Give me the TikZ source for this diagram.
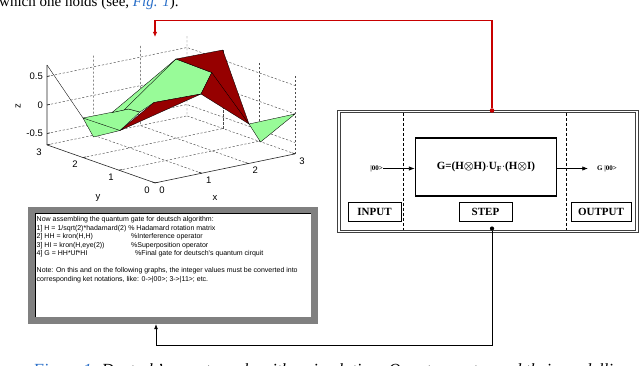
\documentclass[tikz,border=0pt]{standalone}
\usepackage{amsmath}
\usepackage{fontspec}
\setmainfont{Liberation Serif}
\newfontfamily\plotfont{Liberation Sans}
\usetikzlibrary{arrows.meta, positioning, calc}
\definecolor{surfgreen}{RGB}{152,251,152}
\definecolor{surfred}{RGB}{150,0,0}
\definecolor{linkred}{RGB}{200,0,0}
\definecolor{refblue}{RGB}{40,110,200}
\definecolor{framegray}{RGB}{128,128,128}

\begin{document}
\begin{tikzpicture}[x=1pt, y=-1pt, >=Latex,
  gridline/.style={black!70, line width=0.45pt, dash pattern=on 2.2pt off 1.8pt},
  axisline/.style={black!85, line width=0.6pt},
  ticklabel/.style={font=\plotfont\fontsize{9.5}{9.5}\selectfont, inner sep=0pt},
  facet/.style={draw=black, line width=0.35pt, line join=round},
  tagbox/.style={draw, line width=0.9pt, minimum height=19pt, inner sep=0pt, font=\bfseries\fontsize{11}{11}\selectfont},
  ket/.style={font=\bfseries\fontsize{7}{7}\selectfont, inner sep=0pt}]
  \useasboundingbox (0,0) rectangle (640,366);
  \clip (0,0) rectangle (640,366);

  \node[anchor=base west, inner sep=0pt, font=\fontsize{15}{15}\selectfont] (leadin) at (-1,7)
    {which one holds (see, \textcolor{refblue}{\itshape Fig. 1}).};

  \begin{scope}[shift={(155pt,-143pt)}, x={(46.67pt,9.67pt)}, y={(-36pt,12.67pt)}, z={(0pt,57pt)}]
    \foreach \k in {1,2,3} {
      \draw[gridline] (\k,0,-0.7) -- (\k,3,-0.7) -- (\k,3,0.7);
      \draw[gridline] (0,\k,-0.7) -- (3,\k,-0.7);
    }
    \foreach \k in {0,1,2} \draw[gridline] (3,\k,-0.7) -- (3,\k,0.7);
    \foreach \h in {-0.5,0,0.5} \draw[gridline] (0,3,\h) -- (3,3,\h) -- (3,0,\h);
    \draw[axisline] (0,3,0.7) -- (0,3,-0.7) -- (0,0,-0.7) -- (3,0,-0.7);
    \foreach \h/\t [count=\i] in {-0.5/-0.5, 0/0, 0.5/0.5} {
      \draw[axisline] (0,3,\h) -- (0.06,3,\h);
      \node[ticklabel, anchor=east, xshift=-4pt] (zlab\i) at (0,3,\h) {\t};
    }
    \foreach \k in {0,1,2,3} {
      \draw[axisline] (0,\k,-0.7) -- (0.07,\k,-0.7);
      \draw[axisline] (\k,0,-0.7) -- (\k,0.08,-0.7);
      \node[ticklabel, xshift=-8pt, yshift=-7pt] (ylab\k) at (0,\k,-0.7) {\k};
      \node[ticklabel, xshift=7pt, yshift=-7pt] (xlab\k) at (\k,0,-0.7) {\k};
    }
    \node[ticklabel, xshift=-3pt, yshift=-34pt] (ylabel) at (0,1.5,-0.7) {y};
    \node[ticklabel, xshift=-10pt, yshift=-30pt] (xlabel) at (1.5,0,-0.7) {x};
  \end{scope}
  \node[ticklabel, rotate=90] (zlabel) at (18,106) {z};

  \draw[facet, fill=surfgreen] (83,118) -- (128.5,109) -- (140,112) -- (120,130.5) -- (93.5,137) -- cycle;
  \draw[facet] (83,118) -- (120,130.5);
  \draw[facet, fill=surfgreen] (112,112.6) -- (176,59) -- (211.7,72.5) -- (201,94) -- (154,102.5) -- (140,112) -- (128.5,109) -- cycle;
  \draw[facet] (124,110) -- (176,59);
  \draw[facet, fill=surfred] (176,59) -- (222.7,50) -- (249,124) -- (201,94) -- (211.7,72.5) -- cycle;
  \draw[facet] (211.7,72.5) -- (249,124);
  \draw[facet, fill=surfred] (120,130.5) -- (154,102.5) -- (201,94) -- cycle;
  \draw[facet, fill=surfgreen] (249,124) -- (295,114) -- (260.5,142) -- cycle;
  \draw[facet] (47,65) -- (83,118);

  \node[fill=framegray, minimum width=290pt, minimum height=117pt, inner sep=0pt] (codebox) at (173,265.5) {};
  \node[fill=white, minimum width=276pt, minimum height=103pt, inner sep=0pt] (codepane) at (173,265.5) {};
  \draw[line width=0.6pt] (codepane.south west) -- (codepane.north west) -- (codepane.north east);
  \node[anchor=north west, inner sep=0pt, align=left, font=\plotfont\fontsize{7}{8.5}\selectfont] (codetext) at (36.5,216.5)
    {Now assembling the quantum gate for deutsch algorithm:\\
     1] H = 1/sqrt(2)*hadamard(2) \% Hadamard rotation matrix\\
     \makebox[94.5pt][l]{2] HH = kron(H,H)}\%Interference operator\\
     \makebox[94.5pt][l]{3] HI = kron(H,eye(2))}\%Superposition operator\\
     \makebox[98.5pt][l]{4] G = HH*Uf*HI}\%Final gate for deutsch's quantum cirquit\\[8.5pt]
     Note: On this and on the following graphs, the integer values must be converted into\\
     corresponding ket notations, like: 0->|00>; 3->|11>; etc.};
  \coordinate (codein) at ([xshift=-17pt]codebox.south);
  \coordinate (plottop) at (155,37);

  \node[draw=black!75, double=white, double distance=1.3pt, line width=0.9pt, minimum width=298pt, minimum height=120pt, inner sep=0pt] (gatebox) at (488,171.5) {};
  \draw[densely dashed, line width=0.5pt] (403.5,113) -- (403.5,230);
  \draw[densely dashed, line width=0.5pt] (566,113) -- (566,230);
  \node[draw, line width=1.7pt, minimum width=141pt, minimum height=58pt, inner sep=0pt, font=\bfseries\fontsize{11}{11}\selectfont] (stepcore) at (486,167)
    {G=(H$\boldsymbol{\otimes}$H)$\cdot$U\textsubscript{F}$\cdot$(H$\boldsymbol{\otimes}$I)};
  \node[ket, anchor=east] (inket) at (383,168.5) {|00>};
  \node[ket, anchor=west] (outket) at (597,168.5) {G |00>};
  \draw[->, line width=0.6pt] (inket.east) -- (inket.east -| stepcore.west);
  \draw[->, line width=0.6pt, shorten >=9pt] (outket.west -| stepcore.east) -- (outket.west);
  \node[tagbox, minimum width=53pt] (inputtag) at (374.5,211.5) {INPUT};
  \node[tagbox, minimum width=53pt] (steptag) at (485.5,211.5) {STEP};
  \node[tagbox, minimum width=60pt] (outputtag) at (601,211.5) {OUTPUT};

  \node[circle, fill=linkred, inner sep=0pt, minimum size=4.6pt] (topdot) at (492,110.5) {};
  \node[circle, fill=black, inner sep=0pt, minimum size=4.2pt] (botdot) at (492,228.5) {};
  \draw[linkred, line width=1.3pt, -{Latex[length=5pt,width=4.5pt]}] (topdot) -- ++(0,-90) -| (plottop);
  \draw[line width=0.7pt, -{Latex[length=5pt,width=4pt]}] (botdot) -- ++(0,117) -| (codein);

  \node[anchor=base west, inner sep=0pt, font=\itshape\fontsize{17}{17}\selectfont] (caption) at (33,375)
    {\textcolor{refblue}{Figure 1.} Deutsch's quantum algorithm simulation. Quantum gates and their modelling};
\end{tikzpicture}
\end{document}
